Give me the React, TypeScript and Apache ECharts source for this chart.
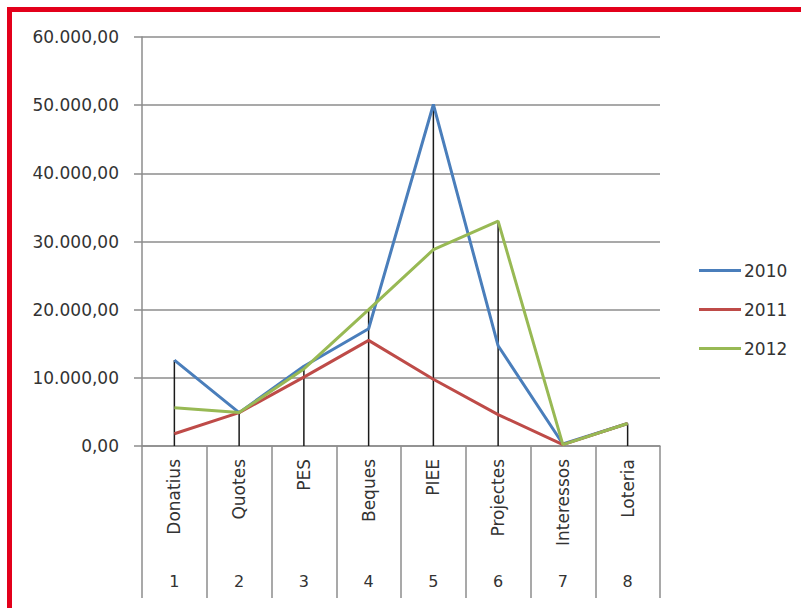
import React, { useEffect, useRef } from "react";
import * as echarts from "echarts";

const categories = ["Donatius", "Quotes", "PES", "Beques", "PIEE", "Projectes", "Interessos", "Loteria"];
const categoryNumbers = ["1", "2", "3", "4", "5", "6", "7", "8"];
const values2010 = [12600, 4900, 11700, 17200, 50100, 14700, 300, 3300];
const values2011 = [1800, 4900, 10100, 15500, 9800, 4600, 200, 3300];
const values2012 = [5600, 4900, 11300, 20000, 28800, 33000, 200, 3300];
const seriesNames = ["2010", "2011", "2012"];
const yTicks = [0, 10000, 20000, 30000, 40000, 50000, 60000];

const FONT = "DejaVu Sans";

function fmt(v: number): string {
  const s = Math.round(v).toString().replace(/\B(?=(\d{3})+(?!\d))/g, ".");
  return s + ",00";
}

export default function App() {
  const ref = useRef<HTMLDivElement>(null);
  useEffect(() => {
    if (!ref.current) return;
    const chart = echarts.init(ref.current, undefined, { renderer: "svg" });
    const maxVals = categories.map((_, i) => Math.max(values2010[i], values2011[i], values2012[i]));
    chart.setOption({
      animation: false,
      backgroundColor: "#ffffff",
      graphic: [
        { type: "rect", shape: { x: 7, y: 7, width: 794, height: 5 }, style: { fill: "#e3001b" }, z: 100 },
        { type: "rect", shape: { x: 7, y: 7, width: 5, height: 601 }, style: { fill: "#e3001b" }, z: 100 },
      ],
      legend: {
        data: seriesNames,
        orient: "vertical",
        left: 694,
        top: 257,
        icon: "rect",
        itemWidth: 42,
        itemHeight: 3,
        itemGap: 22,
        textStyle: { fontFamily: FONT, fontSize: 17, color: "#333", padding: [0, 0, 0, -2] },
      },
      grid: { left: 142, top: 37, width: 518, height: 409 },
      xAxis: [
        {
          type: "category",
          data: categories,
          boundaryGap: true,
          axisLine: { lineStyle: { color: "#8c8c8c", width: 1.5 } },
          axisTick: { show: true, interval: 0, alignWithLabel: false, length: 152, lineStyle: { color: "#8c8c8c", width: 1.5 } },
          axisLabel: { interval: 0, rotate: 90, margin: 13, fontFamily: FONT, fontSize: 17, color: "#333" },
        },
        {
          type: "category",
          data: categoryNumbers,
          position: "bottom",
          offset: 119,
          boundaryGap: true,
          axisLine: { show: false },
          axisTick: { show: false },
          axisLabel: { interval: 0, margin: 8, fontFamily: FONT, fontSize: 16, color: "#333" },
        },
      ],
      yAxis: {
        type: "value",
        min: 0,
        max: 60000,
        interval: 10000,
        axisLine: { show: true, lineStyle: { color: "#8c8c8c", width: 1.5 } },
        axisTick: { show: true, length: 8, lineStyle: { color: "#8c8c8c", width: 1.5 } },
        splitLine: { show: true, lineStyle: { color: "#8c8c8c", width: 1.5 } },
        axisLabel: {
          margin: 23,
          fontFamily: FONT,
          fontSize: 17,
          color: "#333",
          formatter: (v: number) => (yTicks.indexOf(v) >= 0 ? fmt(v) : ""),
        },
      },
      series: [
        {
          name: "drop",
          type: "bar",
          data: maxVals,
          barWidth: 1.5,
          itemStyle: { color: "#1a1a1a" },
          z: 1,
          silent: true,
        },
        {
          name: seriesNames[0],
          type: "line",
          data: values2010,
          symbol: "none",
          lineStyle: { width: 3, color: "#4a7ebb" },
          itemStyle: { color: "#4a7ebb" },
          z: 3,
        },
        {
          name: seriesNames[1],
          type: "line",
          data: values2011,
          symbol: "none",
          lineStyle: { width: 3, color: "#be4b48" },
          itemStyle: { color: "#be4b48" },
          z: 3,
        },
        {
          name: seriesNames[2],
          type: "line",
          data: values2012,
          symbol: "none",
          lineStyle: { width: 3, color: "#98b954" },
          itemStyle: { color: "#98b954" },
          z: 3,
        },
      ],
    });
    return () => chart.dispose();
  }, []);
  return <div ref={ref} style={{ position: "fixed", left: 0, top: 0, width: 801, height: 608 }} />;
}
